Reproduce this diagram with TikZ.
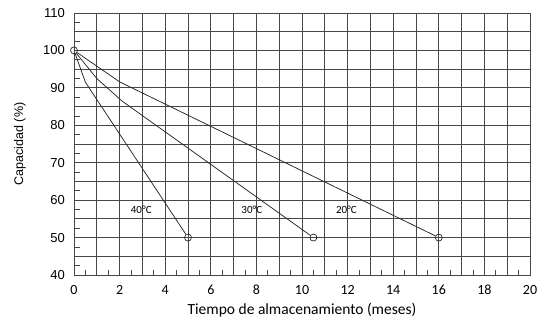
\documentclass[tikz,border=0pt]{standalone}
\usepackage{fontspec}
\setmainfont{Liberation Sans}
\newfontfamily\calib{Carlito}
\begin{document}
\begin{tikzpicture}[x=22.8pt,y=3.743pt,
  gridline/.style={draw=black!72,line width=0.8pt},
  curve/.style={draw=black!85,line width=0.75pt},
  pnt/.style={circle,draw=black!85,line width=0.7pt,minimum size=7pt,inner sep=0pt},
  ylab/.style={font=\fontsize{13}{13}\selectfont,anchor=east},
  xlab/.style={font=\calib\fontsize{14}{14}\selectfont},
  templab/.style={font=\calib\fontsize{11}{11}\selectfont}]
\useasboundingbox (-74pt,-49pt) rectangle (471pt,275pt);
\begin{scope}[yshift=-149.72pt]
  % grid
  \foreach \m in {1,...,19} \draw[gridline] (\m,40) -- (\m,110);
  \foreach \p in {45,50,...,105} \draw[gridline] (0,\p) -- (20,\p);
  \draw[gridline] (0,40) rectangle (20,110);
  % minor ticks
  \foreach \m in {0.5,1.5,...,19.5} \draw[gridline] (\m,40) -- ++(0,1.3);
  \foreach \p in {42.5,47.5,...,107.5} \draw[gridline] (0,\p) -- ++(0.26,0);
  % tick labels
  \foreach \p in {40,50,...,110} \node[ylab] (y\p) at (-0.25,\p) {\p};
  \foreach \m in {0,2,...,20} \node[xlab] (x\m) at (\m,36.1) {\m};
  % axis titles
  \node[font=\fontsize{12.5}{12.5}\selectfont,rotate=90] (ytitle) at (-2.37,75) {Capacidad (\%)};
  \node[font=\calib\fontsize{15.5}{15.5}\selectfont] (xtitle) at (10,30.5) {Tiempo de almacenamiento (meses)};
  % points
  \node[pnt] (s) at (0,100) {};
  \node[pnt] (e40) at (5,50) {};
  \node[pnt] (e30) at (10.5,50) {};
  \node[pnt] (e20) at (16,50) {};
  \coordinate (k40) at (0.5,91.5);
  \coordinate (k30a) at (1,92.5);
  \coordinate (k30b) at (2.1,86.5);
  \coordinate (k20) at (2,91.6);
  % curves
  \draw[curve] (s) -- (k40) -- (e40);
  \draw[curve] (s) -- (k30a) -- (k30b) -- (e30);
  \draw[curve] (s) -- (k20) -- (e20);
  % temperature labels
  \node[templab] (t40) at (2.95,57.5) {40°C};
  \node[templab] (t30) at (7.8,57.5) {30°C};
  \node[templab] (t20) at (11.95,57.5) {20°C};
\end{scope}
\end{tikzpicture}
\end{document}
